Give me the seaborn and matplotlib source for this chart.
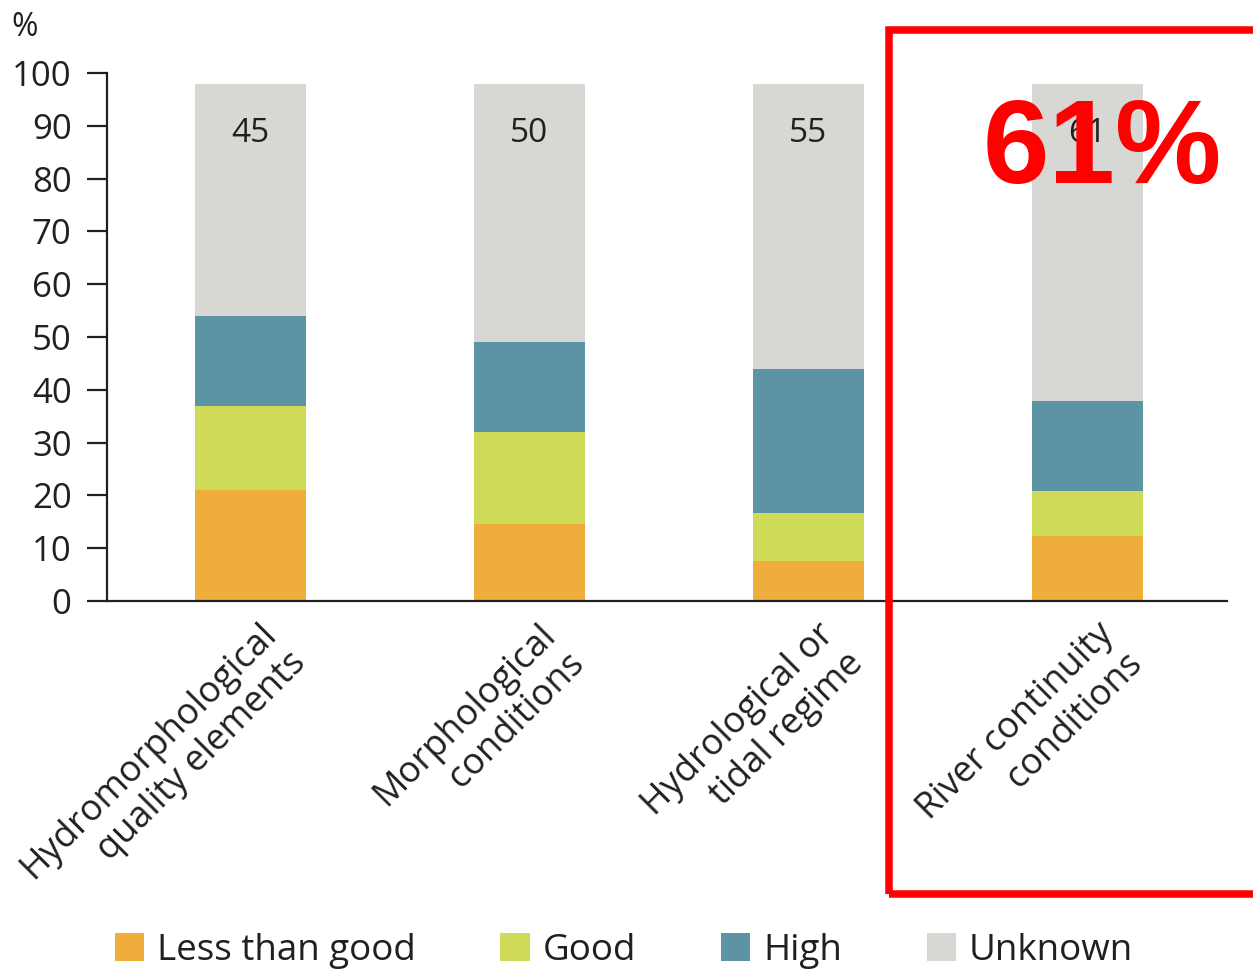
import matplotlib
matplotlib.use("Agg")
import matplotlib.pyplot as plt
import seaborn as sns
import numpy as np
from matplotlib.patches import Patch, Rectangle
from matplotlib.transforms import ScaledTranslation

# ---- data ----
categories = ["Hydromorphological\nquality elements",
              "Morphological\nconditions",
              "Hydrological or\ntidal regime",
              "River continuity\nconditions"]
less_than_good = [21.0, 14.5, 7.6, 12.4]
good = [15.9, 17.5, 9.0, 8.5]
high = [17.0, 17.0, 27.4, 17.0]
unknown = [44.1, 49.0, 54.0, 60.1]
unknown_labels = ["45", "50", "55", "61"]
series_names = ["Less than good", "Good", "High", "Unknown"]
colors = ["#EFAE3C", "#CFDB58", "#5C94A6", "#D7D8D3"]
yticks = list(range(0, 101, 10))
highlight_text = "61%"

sns.set_style("white")
plt.rcParams["font.family"] = ["Open Sans", "DejaVu Sans"]
dark = "#231f20"

W, H = 1253, 969
fig = plt.figure(figsize=(W / 100, H / 100), dpi=100)
ax = fig.add_axes([107 / W, (H - 601) / H, 1120 / W, 528 / H])

# stacked bars via cumulative layers
layers = [less_than_good, good, high, unknown]
cum = np.cumsum(np.array(layers), axis=0)
for k in range(len(layers) - 1, -1, -1):
    sns.barplot(x=categories, y=cum[k], color=colors[k], width=0.4,
                saturation=1, linewidth=0, ax=ax, zorder=2)

ax.set_xlim(-0.514, 3.5)
ax.set_ylim(0, 100)
ax.set_yticks(yticks)
ax.set_yticklabels([str(t) for t in yticks])

for s in ["top", "right"]:
    ax.spines[s].set_visible(False)
for s in ["left", "bottom"]:
    ax.spines[s].set_color(dark)
    ax.spines[s].set_linewidth(1.6)
    ax.spines[s].set_zorder(3)

ax.tick_params(axis="y", direction="out", length=14.5, width=1.6,
               color=dark, labelsize=25, labelcolor=dark, pad=11, left=True)
ax.tick_params(axis="x", length=0, pad=11, labelsize=26, labelcolor=dark)
ax.set_xticks(range(len(categories)))
ax.set_xticklabels(categories, rotation=45, ha="right", va="top",
                   rotation_mode="anchor")
for lab in ax.get_xticklabels():
    lab.set_multialignment("right")
    lab.set_linespacing(1.2)
    lab.set_transform(lab.get_transform() +
                      ScaledTranslation(0.08, 0, fig.dpi_scale_trans))
ax.set_xlabel("")
ax.set_ylabel("")

# unknown value labels
for i, lab in enumerate(unknown_labels):
    ax.text(i, cum[-1][i] - 9.5, lab, ha="center", va="center",
            fontsize=24, color=dark, zorder=4)

# "%" unit label
fig.text(11 / W, 1 - 28 / H, "%", ha="left", va="center", fontsize=23, color=dark)

# legend
handles = [Patch(facecolor=c, edgecolor="none") for c in colors]
fig.legend(handles, series_names, loc="center", ncol=4,
           bbox_to_anchor=(624 / W, 1 - 951 / H), frameon=False,
           fontsize=26.5, handlelength=0.8, handleheight=0.8,
           handletextpad=0.35, columnspacing=2.3, labelcolor=dark)

# red highlight box and text
rect = Rectangle((889 / W, 1 - 894 / H), 1.0, (894 - 29.7) / H,
                 transform=fig.transFigure, fill=False, edgecolor="#FF0000",
                 linewidth=5.4, clip_on=False, zorder=10)
fig.patches.append(rect)
fig.text(1102.5 / W, 1 - 183 / H, highlight_text, ha="center", va="baseline",
         fontsize=86, fontweight="bold", color="#FF0000",
         family=["Liberation Sans", "DejaVu Sans"], zorder=11)

fig.savefig("out.png", dpi=100)
